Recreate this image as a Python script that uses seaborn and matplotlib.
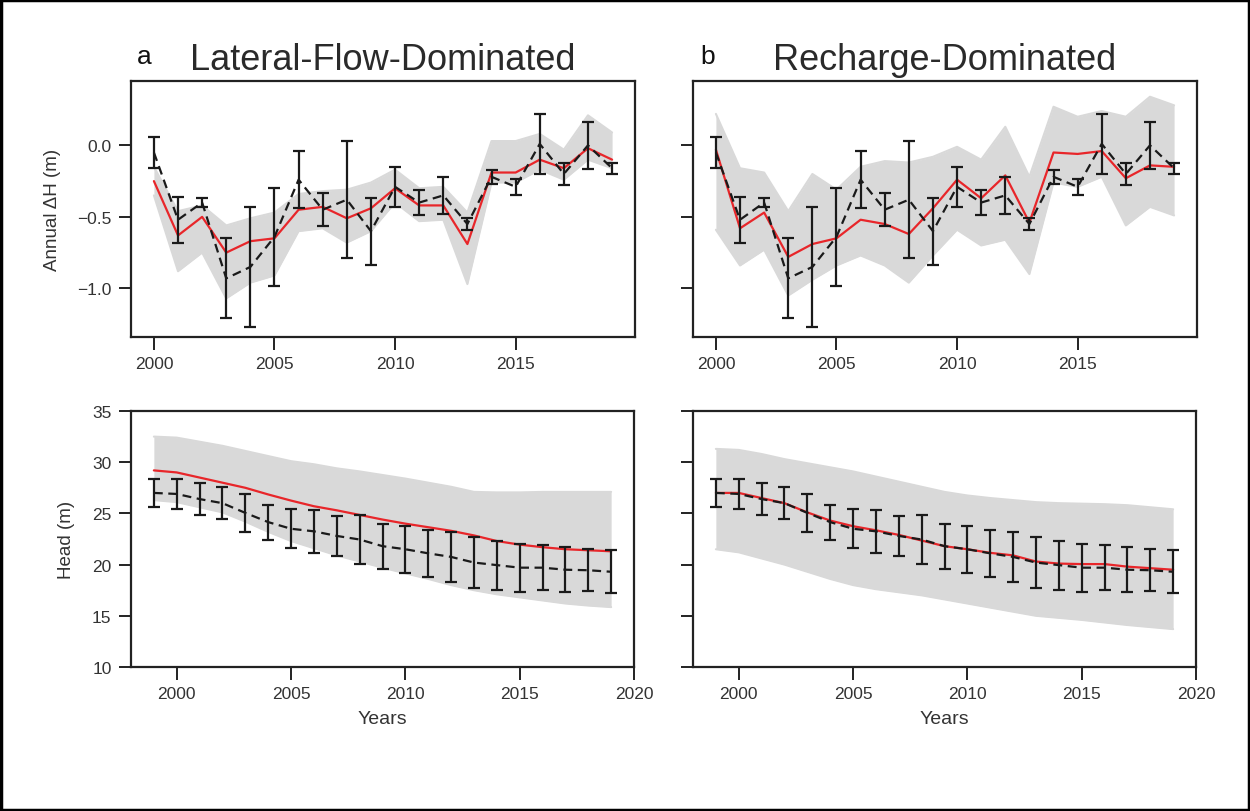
import numpy as np
import pandas as pd
import matplotlib
matplotlib.use("Agg")
import matplotlib.pyplot as plt
import seaborn as sns

# ---------------- data ----------------
years_dh = list(range(2000, 2020))
years_h = list(range(1999, 2020))

obs_dh = [-0.05, -0.52, -0.40, -0.93, -0.85, -0.64, -0.24, -0.45, -0.38, -0.60,
          -0.29, -0.40, -0.35, -0.55, -0.22, -0.29, 0.01, -0.20, 0.00, -0.16]
obs_dh_err = [0.11, 0.16, 0.03, 0.28, 0.42, 0.34, 0.20, 0.115, 0.41, 0.235,
              0.14, 0.09, 0.13, 0.04, 0.05, 0.055, 0.21, 0.075, 0.165, 0.04]

lat_dh_best = [-0.25, -0.63, -0.50, -0.75, -0.67, -0.65, -0.45, -0.43, -0.51, -0.44,
               -0.30, -0.42, -0.42, -0.69, -0.19, -0.19, -0.10, -0.16, -0.02, -0.10]
lat_dh_upper = [-0.15, -0.46, -0.42, -0.56, -0.51, -0.47, -0.34, -0.32, -0.31, -0.26,
                -0.17, -0.30, -0.29, -0.47, 0.03, 0.03, 0.08, -0.03, 0.21, 0.09]
lat_dh_lower = [-0.35, -0.88, -0.75, -1.07, -0.96, -0.91, -0.60, -0.58, -0.68, -0.60,
                -0.40, -0.53, -0.52, -0.97, -0.26, -0.26, -0.17, -0.24, -0.10, -0.16]

rch_dh_best = [-0.03, -0.58, -0.47, -0.78, -0.69, -0.65, -0.52, -0.55, -0.62, -0.44,
               -0.24, -0.37, -0.21, -0.54, -0.05, -0.06, -0.04, -0.23, -0.14, -0.15]
rch_dh_upper = [0.22, -0.16, -0.19, -0.46, -0.20, -0.31, -0.15, -0.11, -0.12, -0.08,
                -0.01, -0.10, 0.13, -0.22, 0.27, 0.20, 0.24, 0.20, 0.34, 0.28]
rch_dh_lower = [-0.59, -0.84, -0.73, -1.05, -0.94, -0.84, -0.77, -0.84, -0.96, -0.77,
                -0.59, -0.70, -0.66, -0.90, -0.26, -0.29, -0.22, -0.56, -0.43, -0.49]

obs_h = [27.0, 26.9, 26.4, 26.0, 25.05, 24.15, 23.5, 23.25, 22.8, 22.45, 21.8,
         21.5, 21.1, 20.75, 20.2, 19.95, 19.7, 19.7, 19.5, 19.45, 19.3]
obs_h_err = [1.37, 1.46, 1.52, 1.56, 1.82, 1.70, 1.90, 2.09, 1.99, 2.40, 2.20,
             2.30, 2.30, 2.43, 2.45, 2.40, 2.35, 2.20, 2.20, 2.05, 2.10]

lat_h_best = [29.2, 29.0, 28.5, 28.0, 27.5, 26.85, 26.25, 25.7, 25.3, 24.85, 24.4,
              24.0, 23.65, 23.3, 22.85, 22.3, 21.95, 21.7, 21.5, 21.4, 21.3]
lat_h_upper = [32.5, 32.4, 32.0, 31.6, 31.1, 30.6, 30.1, 29.8, 29.4, 29.1, 28.75,
               28.4, 28.0, 27.6, 27.1, 27.05, 27.05, 27.1, 27.1, 27.1, 27.1]
lat_h_lower = [26.3, 26.1, 25.6, 25.1, 24.2, 23.2, 22.3, 21.6, 20.9, 20.3, 19.7,
               19.15, 18.6, 18.0, 17.5, 17.1, 16.8, 16.5, 16.2, 16.0, 15.85]

rch_h_best = [27.0, 27.0, 26.5, 26.0, 25.1, 24.3, 23.75, 23.35, 22.9, 22.35, 21.8,
              21.5, 21.15, 20.9, 20.3, 20.1, 20.05, 20.05, 19.8, 19.65, 19.5]
rch_h_upper = [31.3, 31.2, 30.8, 30.3, 29.9, 29.5, 29.1, 28.6, 28.1, 27.6, 27.1,
               26.75, 26.5, 26.3, 26.1, 26.0, 25.95, 25.9, 25.8, 25.6, 25.4]
rch_h_lower = [21.5, 21.2, 20.6, 20.0, 19.3, 18.6, 18.0, 17.6, 17.3, 17.0, 16.6,
               16.2, 15.8, 15.4, 15.0, 14.8, 14.6, 14.35, 14.1, 13.9, 13.7]

titles = ["Lateral-Flow-Dominated", "Recharge-Dominated"]
letters = ["a", "b"]

# ---------------- style ----------------
sns.set_style("ticks")
plt.rcParams['font.family'] = ['Liberation Sans Narrow', 'Liberation Sans', 'DejaVu Sans']
plt.rcParams['axes.edgecolor'] = '#222222'
plt.rcParams['xtick.color'] = '#222222'
plt.rcParams['ytick.color'] = '#222222'
plt.rcParams['xtick.labelcolor'] = '#333333'
plt.rcParams['ytick.labelcolor'] = '#333333'

fig = plt.figure(figsize=(12.5, 8.12), dpi=100)
W, H = 1250, 812
reg = ['Liberation Sans', 'DejaVu Sans']


def add_ax(x0, y0, x1, y1):
    return fig.add_axes([x0 / W, 1 - y1 / H, (x1 - x0) / W, (y1 - y0) / H])


axes = [[add_ax(131, 82, 635, 338), add_ax(693, 82, 1197, 338)],
        [add_ax(131, 412, 634, 668), add_ax(693, 412, 1196, 668)]]

gray = '#d9d9d9'
red = '#e8262a'

top_sets = [(lat_dh_best, lat_dh_upper, lat_dh_lower), (rch_dh_best, rch_dh_upper, rch_dh_lower)]
bot_sets = [(lat_h_best, lat_h_upper, lat_h_lower), (rch_h_best, rch_h_upper, rch_h_lower)]


def draw(ax, yrs, best, upper, lower, obs, err):
    ax.fill_between(yrs, lower, upper, color=gray, lw=0, zorder=1)
    for env in (upper, lower):
        sns.lineplot(x=yrs, y=env, ax=ax, color=gray, lw=1.5, zorder=1)
    sns.lineplot(x=yrs, y=best, ax=ax, color=red, lw=1.6, zorder=3)
    ax.errorbar(yrs, obs, yerr=err, fmt='none', ecolor='#1a1a1a', elinewidth=1.6,
                capsize=4, capthick=1.6, zorder=4)
    sns.lineplot(x=yrs, y=obs, ax=ax, color='#1a1a1a', lw=1.6, zorder=5)
    ax.lines[-1].set_linestyle((0, (4, 2.5)))


for j in range(2):
    b, u, l = top_sets[j]
    ax = axes[0][j]
    draw(ax, years_dh, b, u, l, obs_dh, obs_dh_err)
    ax.set_ylim(-1.34, 0.45)
    ax.set_xlim(1999.05, 2019.95)
    ax.set_xticks([2000, 2005, 2010, 2015])
    ax.set_yticks([0.0, -0.5, -1.0])
    ax.set_yticklabels(['0.0', '\u22120.5', '\u22121.0'])

    b, u, l = bot_sets[j]
    ax = axes[1][j]
    draw(ax, years_h, b, u, l, obs_h, obs_h_err)
    ax.set_ylim(10, 35)
    ax.set_xlim(1998, 2020)
    ax.set_xticks([2000, 2005, 2010, 2015, 2020])
    ax.set_yticks([10, 15, 20, 25, 30, 35])

for row in axes:
    for j, ax in enumerate(row):
        for s in ax.spines.values():
            s.set_linewidth(1.6)
            s.set_visible(True)
        ax.tick_params(axis='both', length=9, width=1.4, labelsize=12.5, pad=5)
        ax.set_ylabel("")
        ax.set_xlabel("")
        if j == 1:
            ax.tick_params(axis='y', labelleft=False)

axes[0][0].set_ylabel("Annual \u0394H (m)", fontsize=13.5, labelpad=12, family=reg, color='#333333')
axes[1][0].set_ylabel("Head (m)", fontsize=13.5, labelpad=12, family=reg, color='#333333')
for ax in axes[1]:
    ax.set_xlabel("Years", fontsize=14, labelpad=6, family=reg, color='#333333')

# titles
for j, (lx, tx) in enumerate([(137, 383), (700, 945)]):
    fig.text(lx / W, 1 - 57 / H, letters[j], fontsize=19, ha='left', va='center',
             family=reg, color='#111111')
    fig.text(tx / W, 1 - 60 / H, titles[j], fontsize=26, ha='center', va='center',
             family=reg, color='#2a2a2a')

# outer frame
fig.patches.append(plt.Rectangle((0.001, 0.001), 0.998, 0.998, transform=fig.transFigure,
                                 fill=False, edgecolor='black', lw=2.5, zorder=10))

fig.savefig("out.png", dpi=100, facecolor='white')
